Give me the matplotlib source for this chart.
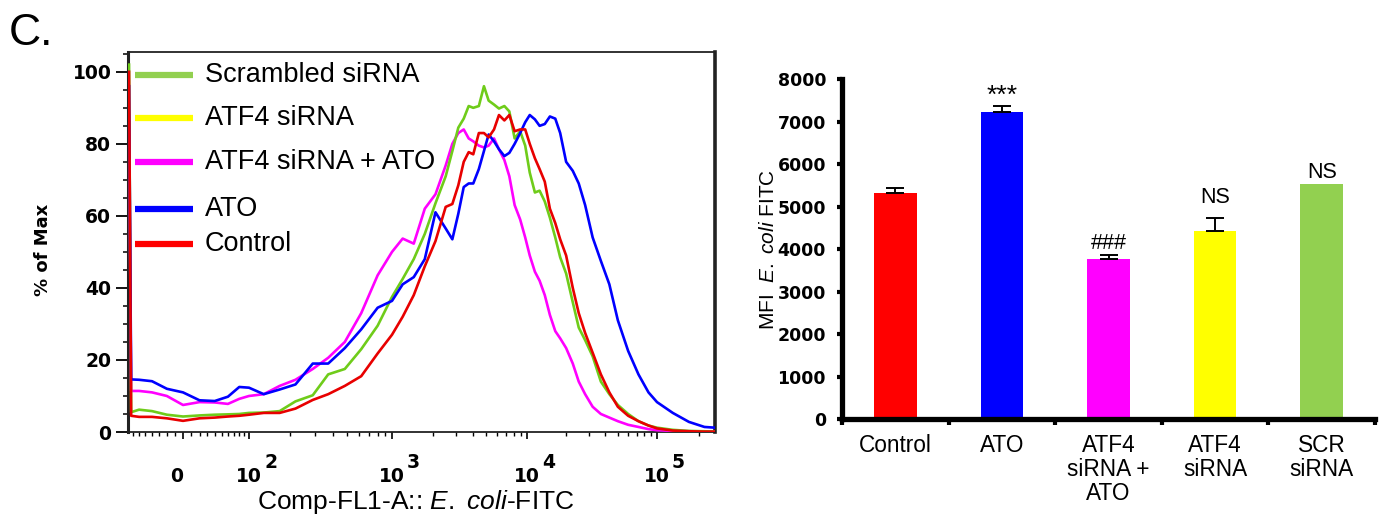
import numpy as np
import matplotlib
matplotlib.use("Agg")
import matplotlib.pyplot as plt
from matplotlib.ticker import FixedLocator, NullFormatter

plt.rcParams['font.family'] = ['Liberation Sans', 'DejaVu Sans']
plt.rcParams['mathtext.fontset'] = 'custom'
plt.rcParams['mathtext.rm'] = 'Liberation Sans'
plt.rcParams['mathtext.it'] = 'Liberation Sans:italic'

# ---------------- data: histogram (Comp-FL1-A values, % of Max) ----------------
fl1_bins = [-78, -74, -60, -40, -20, 0, 20, 40, 60, 80, 100, 130, 170, 220, 290,
            370, 480, 620, 800, 1000, 1200, 1450, 1750, 2100, 2500, 2800, 3100,
            3400, 3700, 4000, 4400, 4800, 5200, 5700, 6200, 6800, 7400, 8100,
            8900, 9700, 10500, 11500, 12500, 13700, 15000, 16500, 18000, 20000,
            22500, 25000, 28000, 32000, 37000, 43000, 50000, 60000, 72000, 86000,
            100000, 130000, 170000, 220000, 262144]

hist_scrambled = [102, 5.5, 6.2, 5.8, 4.8, 4.3, 4.6, 4.8, 4.9, 5.0, 5.3, 5.4, 5.8,
                  8.5, 10.2, 16.0, 17.5, 23.0, 29.5, 37.5, 42.5, 48.0, 55.0, 63.5,
                  71.0, 78.0, 84.5, 87.0, 90.5, 90.0, 90.5, 96.0, 92.0, 90.9, 89.8,
                  90.5, 89.0, 81.5, 83.5, 79.5, 72.0, 66.5, 67.0, 64.0, 59.5, 54.0,
                  48.5, 44.0, 36.0, 29.0, 25.5, 21.0, 14.0, 10.5, 7.5, 5.0, 3.0,
                  1.8, 1.2, 0.6, 0.3, 0.2, 0.1]

hist_atf4_ato = [88, 11.4, 11.4, 11.0, 10.0, 7.5, 8.3, 8.2, 7.8, 9.2, 10.0, 10.5,
                 12.8, 14.5, 17.5, 20.6, 25.0, 33.0, 43.5, 50.0, 53.7, 52.3, 62.0,
                 66.0, 74.0, 80.0, 83.0, 84.0, 81.5, 80.7, 79.5, 79.0, 79.5, 81.5,
                 78.5, 75.5, 71.0, 63.0, 59.0, 54.0, 49.0, 44.5, 42.0, 38.0, 32.5,
                 28.0, 26.0, 23.3, 19.0, 14.0, 10.5, 7.0, 5.0, 4.0, 3.0, 2.0, 1.4,
                 0.8, 0.5, 0.3, 0.2, 0.1, 0.1]

hist_ato = [96, 14.6, 14.5, 14.1, 12.0, 11.0, 8.8, 8.6, 9.8, 12.5, 12.3, 10.5, 11.8,
            13.2, 19.0, 19.0, 23.3, 28.5, 34.5, 36.4, 41.0, 43.0, 48.0, 61.0, 56.5,
            53.5, 60.6, 68.0, 69.0, 69.0, 73.0, 78.0, 82.6, 80.7, 78.5, 76.6, 77.5,
            80.0, 83.0, 86.0, 88.0, 86.8, 85.0, 85.5, 87.6, 87.0, 83.0, 75.0, 72.5,
            69.0, 63.0, 54.0, 47.5, 41.0, 31.0, 22.5, 16.0, 11.0, 8.3, 5.3, 2.8,
            1.4, 1.2]

hist_control = [100, 4.5, 4.2, 4.2, 3.8, 3.1, 3.8, 4.0, 4.3, 4.5, 4.8, 5.3, 5.3,
                6.5, 8.9, 10.5, 12.8, 15.5, 21.8, 27.0, 32.0, 38.0, 46.0, 53.0,
                62.5, 63.3, 68.5, 75.0, 77.7, 77.1, 83.0, 83.0, 81.8, 84.0, 88.0,
                86.5, 88.0, 83.5, 84.0, 84.0, 80.0, 76.0, 73.0, 69.5, 62.0, 58.0,
                53.5, 49.0, 40.0, 33.0, 27.5, 22.0, 16.0, 11.0, 7.0, 4.5, 3.0, 1.8,
                1.0, 0.4, 0.2, 0.1, 0.1]

legend_labels = ["Scrambled siRNA", "ATF4 siRNA", "ATF4 siRNA + ATO", "ATO", "Control"]
legend_colors = ["#92D050", "#FFFF00", "#FF00FF", "#0000FF", "#FF0000"]

# ---------------- data: bar chart ----------------
bar_categories = ["Control", "ATO", "ATF4\nsiRNA +\nATO", "ATF4\nsiRNA", "SCR\nsiRNA"]
bar_mfi = [5330, 7230, 3765, 4430, 5536]
bar_sem = [120, 135, 100, 300, 0]
bar_colors = ["#FF0000", "#0000FF", "#FF00FF", "#FFFF00", "#92D050"]
bar_marks = ["", "***", "###", "NS", "NS"]
bar_mark_y = [0, 7435, 4010, 5089, 5689]

# ---------------- figure ----------------
W, H = 1379, 518
fig = plt.figure(figsize=(W / 100, H / 100), dpi=100)

# ---- biexponential-like display scale for the flow axis ----
SCALE_VALS = np.array([-80, 0, 100, 1e3, 1e4, 1e5, 262144.0])
SCALE_POS = np.array([128, 183, 249, 392, 527, 657, 715.0])
C_ASINH = 64.0
G_VALS = np.arcsinh(SCALE_VALS / C_ASINH)


def fwd(x):
    x = np.asarray(x, dtype=float)
    return np.interp(np.arcsinh(x / C_ASINH), G_VALS, SCALE_POS)


def inv(p):
    p = np.asarray(p, dtype=float)
    return C_ASINH * np.sinh(np.interp(p, SCALE_POS, G_VALS))


ax = fig.add_axes([128 / W, 1 - 432 / H, 587 / W, 380 / H])
ax.set_xscale('function', functions=(fwd, inv))
ax.set_xlim(-80, 262144)
ax.set_ylim(0, 105.5)

curve_colors = {"mag": "#FF00FF", "grn": "#6FCC1A", "blu": "#0000FF", "red": "#E80000"}
ax.plot(fl1_bins, hist_atf4_ato, color=curve_colors["mag"], lw=1.9, zorder=3)
ax.plot(fl1_bins, hist_scrambled, color=curve_colors["grn"], lw=1.9, zorder=3)
ax.plot(fl1_bins, hist_ato, color=curve_colors["blu"], lw=1.9, zorder=3)
ax.plot(fl1_bins, hist_control, color=curve_colors["red"], lw=1.9, zorder=3)

# manual legend
legend_y = [0.9395, 0.826, 0.7105, 0.587, 0.495]
for lab, col, yy in zip(legend_labels, legend_colors, legend_y):
    ax.plot([0.012, 0.111], [yy, yy], transform=ax.transAxes, color=col, lw=4.5,
            solid_capstyle='butt')
    ax.text(0.131, yy, lab, transform=ax.transAxes, va='center', ha='left',
            fontsize=19.5)

# y ticks
ax.set_yticks([0, 20, 40, 60, 80, 100])
ax.yaxis.set_minor_locator(FixedLocator([5, 10, 15, 25, 30, 35, 45, 50, 55, 65, 70,
                                         75, 85, 90, 95, 105]))
ax.tick_params(axis='y', which='major', direction='out', length=8.5, width=1.3,
               pad=3.5, labelsize=13.5)
ax.tick_params(axis='y', which='minor', direction='out', length=3.5, width=1.1)
for lbl in ax.get_yticklabels():
    lbl.set_fontfamily('DejaVu Sans')
    lbl.set_fontweight('bold')

# x ticks
ax.xaxis.set_major_locator(FixedLocator([0, 100, 1e3, 1e4, 1e5]))
ax.xaxis.set_major_formatter(NullFormatter())
minor_x = [-70, -60, -50, -40, -30, -20, -10, 10, 20, 30, 40, 50, 60, 70, 80, 90]
minor_x += [m * 10 ** k for k in (2, 3, 4) for m in range(2, 10)] + [2e5]
ax.xaxis.set_minor_locator(FixedLocator(minor_x))
ax.xaxis.set_minor_formatter(NullFormatter())
ax.tick_params(axis='x', which='major', direction='out', length=5, width=1.2)
ax.tick_params(axis='x', which='minor', direction='out', length=3, width=1.0)

lab_kw = dict(xycoords=('data', 'axes fraction'), textcoords='offset points',
              fontfamily='DejaVu Sans', fontweight='bold', fontsize=13.5,
              ha='center', va='center')
ax.annotate("0", xy=(0, 0), xytext=(-4.3, -32.4), **lab_kw)
for v, e in zip([100, 1e3, 1e4, 1e5], ["2", "3", "4", "5"]):
    ax.annotate("10", xy=(v, 0), xytext=(0, -32.4), **lab_kw)
    ax.annotate(e, xy=(v, 0), xytext=(15.5, -21.6), **lab_kw)

for s in ax.spines.values():
    s.set_linewidth(1.3)
    s.set_color('#222222')
ax.spines['right'].set_linewidth(2.6)
ax.spines['left'].set_linewidth(2.2)

fig.text(43 / W, 1 - 250 / H, "% of Max", rotation=90, fontfamily='DejaVu Sans',
         fontweight='bold', fontsize=13, ha='center', va='center')
fig.text(416 / W, 1 - 502 / H, r"Comp-FL1-A:: $\mathit{E.}$ $\mathit{coli}$-FITC",
         fontsize=19, ha='center', va='center')
fig.text(0.006, 1 - 45 / H, "C.", fontsize=32, va='baseline', ha='left')

# ---------------- bar chart ----------------
ax2 = fig.add_axes([842 / W, 1 - 419.3 / H, 533 / W, 340 / H])
xpos = np.arange(len(bar_categories))
ax2.bar(xpos, bar_mfi, width=0.4, color=bar_colors, zorder=2)
for xi, m, e in zip(xpos, bar_mfi, bar_sem):
    if e > 0:
        ax2.errorbar([xi], [m], yerr=[[0], [e]], fmt='none', ecolor='black',
                     elinewidth=1.4, capsize=6.5, capthick=1.4, zorder=3)
for xi, mk, my in zip(xpos, bar_marks, bar_mark_y):
    if mk:
        ax2.text(xi, my, mk, ha='center', va='baseline',
                 fontsize=19 if mk == "***" else 15.5)

ax2.set_xlim(-0.5, 4.5)
ax2.set_ylim(0, 8000)
ax2.spines['top'].set_visible(False)
ax2.spines['right'].set_visible(False)
ax2.spines['left'].set_linewidth(3.8)
ax2.spines['bottom'].set_linewidth(3.8)

ax2.set_xticks(np.arange(-0.5, 5, 1.0))
ax2.set_xticklabels([])
ax2.set_xticks(xpos, minor=True)
ax2.set_xticklabels(bar_categories, minor=True)
ax2.tick_params(axis='x', which='major', direction='out', length=4, width=3)
ax2.tick_params(axis='x', which='minor', length=0, pad=10.5, labelsize=16.3)
for t in ax2.get_xticklabels(minor=True):
    t.set_linespacing(1.05)

ax2.set_yticks(np.arange(0, 8001, 1000))
ax2.tick_params(axis='y', direction='out', length=3.5, width=3, pad=8, labelsize=12.5)
for t in ax2.get_yticklabels():
    t.set_fontfamily('DejaVu Sans')
    t.set_fontweight('bold')

fig.text(768 / W, 1 - 249 / H, r"MFI  $\mathit{E.}$ $\mathit{coli}$ FITC", rotation=90,
         fontsize=15, ha='center', va='center')

fig.savefig("out.png", dpi=100)
